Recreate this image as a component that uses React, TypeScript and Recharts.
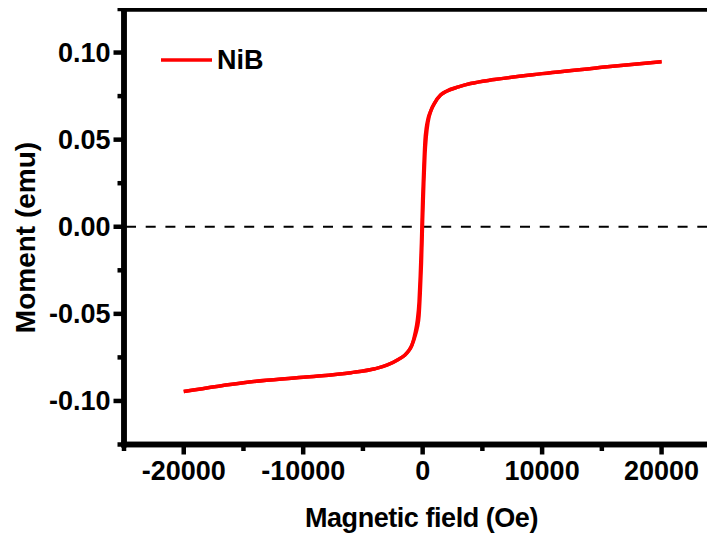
import React from 'react';
import { LineChart, Line, XAxis, YAxis, ReferenceLine, Legend } from 'recharts';

// Magnetic field (Oe)
const fieldOe = [-20000, -15000, -10000, -6000, -4000, -3000, -2000, -1500, -1200, -900, -600, -450, -300, -200, -100, 0, 100, 200, 300, 450, 700, 1000, 1500, 2000, 3000, 4000, 6000, 10000, 15000, 20000];
// Moment (emu), ascending-field branch
const momentUp = [-0.0946, -0.0895, -0.0864, -0.0838, -0.0815, -0.0795, -0.0760, -0.0738, -0.0715, -0.0680, -0.0620, -0.0580, -0.0510, -0.0380, -0.0210, 0.0040, 0.0250, 0.0420, 0.0515, 0.0600, 0.0668, 0.0710, 0.0756, 0.0778, 0.0803, 0.0822, 0.0845, 0.0879, 0.0915, 0.0948];
// Moment (emu), descending-field branch
const momentDown = [-0.0946, -0.0895, -0.0864, -0.0838, -0.0815, -0.0795, -0.0760, -0.0738, -0.0715, -0.0680, -0.0600, -0.0540, -0.0430, -0.0280, -0.0090, 0.0160, 0.0350, 0.0500, 0.0565, 0.0620, 0.0668, 0.0710, 0.0756, 0.0778, 0.0803, 0.0822, 0.0845, 0.0879, 0.0915, 0.0948];

const xDomain = [-25000, 25000];
const yDomain = [-0.125, 0.125];
const xTicks = [-25000, -20000, -15000, -10000, -5000, 0, 5000, 10000, 15000, 20000, 25000];
const xMajorTicks = [-20000, -10000, 0, 10000, 20000];
const yTicks = [-0.125, -0.1, -0.075, -0.05, -0.025, 0, 0.025, 0.05, 0.075, 0.1, 0.125];
const yMajorTicks = [-0.1, -0.05, 0, 0.05, 0.1];

const seriesName = 'NiB';
const xTitle = 'Magnetic field (Oe)';
const yTitle = 'Moment (emu)';

const upData = fieldOe.map((h, i) => ({ h, m: momentUp[i] }));
const downData = fieldOe.map((h, i) => ({ h, m: momentDown[i] }));

const FONT = '"Liberation Sans", Arial, sans-serif';
const isMajor = (v: number, list: number[]) => list.some((t) => Math.abs(t - v) < 1e-9);

const XTick = (props: any) => {
  const { x, y, payload } = props;
  const major = isMajor(payload.value, xMajorTicks);
  return (
    <g>
      <line x1={x} x2={x} y1={y} y2={y + (major ? 10 : 6.5)} stroke="#000" strokeWidth={4.5} />
      {major && (
        <text x={x} y={y + 35} textAnchor="middle" fontFamily={FONT} fontWeight="bold" fontSize={27} fill="#000">
          {payload.value}
        </text>
      )}
    </g>
  );
};

const TopTick = (props: any) => {
  const { x, y } = props;
  return <line x1={x} x2={x} y1={y - 3.5} y2={y + 4.5} stroke="#000" strokeWidth={3} />;
};

const YTick = (props: any) => {
  const { x, y, payload } = props;
  const major = isMajor(payload.value, yMajorTicks);
  return (
    <g>
      <line x1={x} x2={x - (major ? 10.5 : 6.5)} y1={y} y2={y} stroke="#000" strokeWidth={4.5} />
      {major && (
        <text x={x - 13.5} y={y + 9} textAnchor="end" fontFamily={FONT} fontWeight="bold" fontSize={27} fill="#000">
          {payload.value.toFixed(2)}
        </text>
      )}
    </g>
  );
};

const LegendContent = () => (
  <svg width={160} height={34} style={{ display: 'block', overflow: 'visible' }}>
    <line x1={0} x2={51} y1={12} y2={12} stroke="#ff0000" strokeWidth={3.5} />
    <text x={56} y={21} fontFamily={FONT} fontWeight="bold" fontSize={27} fill="#000">
      {seriesName}
    </text>
  </svg>
);

const frame = { stroke: '#000', strokeWidth: 5.5, strokeLinecap: 'square' as const };

export default function App() {
  return (
    <div style={{ width: 707, height: 532, overflow: 'hidden', position: 'relative' }}>
      <LineChart width={730} height={532} margin={{ top: 1, right: 16.7, left: 0, bottom: 0 }}>
        <XAxis
          dataKey="h"
          type="number"
          domain={xDomain}
          ticks={xTicks}
          interval={0}
          tickLine={false}
          tickSize={0}
          tickMargin={0}
          tick={<XTick />}
          axisLine={frame}
          height={95.5}
          allowDataOverflow
          label={(p: any) => (
            <text x={413.5} y={519} textAnchor="middle" fontFamily={FONT} fontWeight="bold" fontSize={27} letterSpacing={-0.45} fill="#000">
              {xTitle}
            </text>
          )}
        />
        <XAxis
          xAxisId="top"
          orientation="top"
          dataKey="h"
          type="number"
          domain={xDomain}
          ticks={xTicks}
          interval={0}
          tickLine={false}
          tickSize={0}
          tickMargin={0}
          tick={<TopTick />}
          axisLine={frame}
          height={0}
          allowDataOverflow
        />
        <YAxis
          dataKey="m"
          type="number"
          domain={yDomain}
          ticks={yTicks}
          interval={0}
          tickLine={false}
          tickSize={0}
          tickMargin={0}
          tick={<YTick />}
          axisLine={frame}
          width={116}
          allowDataOverflow
          label={(p: any) => (
            <text x={27} y={229.5} transform="rotate(-90, 27, 229.5)" textAnchor="middle" fontFamily={FONT} fontWeight="bold" fontSize={28} fill="#000">
              {yTitle}
            </text>
          )}
        />
        <ReferenceLine y={0} stroke="#000" strokeWidth={2.2} strokeDasharray="10 9.7" strokeDashoffset={-2} />
        <ReferenceLine x={xDomain[0]} {...frame} ifOverflow="visible" />
        <ReferenceLine y={yDomain[0]} {...frame} ifOverflow="visible" />
        <ReferenceLine y={yDomain[1]} {...frame} ifOverflow="visible" />
        <Line data={downData} dataKey="m" type="monotone" stroke="#ff0000" strokeWidth={3.5} dot={false} isAnimationActive={false} name={seriesName} />
        <Line data={upData} dataKey="m" type="monotone" stroke="#ff0000" strokeWidth={3.5} dot={false} isAnimationActive={false} legendType="none" />
        <Legend
          layout="horizontal"
          verticalAlign="middle"
          align="center"
          content={<LegendContent />}
          wrapperStyle={{ position: 'absolute', left: 153, top: 40, width: 170, height: 34 }}
        />
      </LineChart>
    </div>
  );
}
